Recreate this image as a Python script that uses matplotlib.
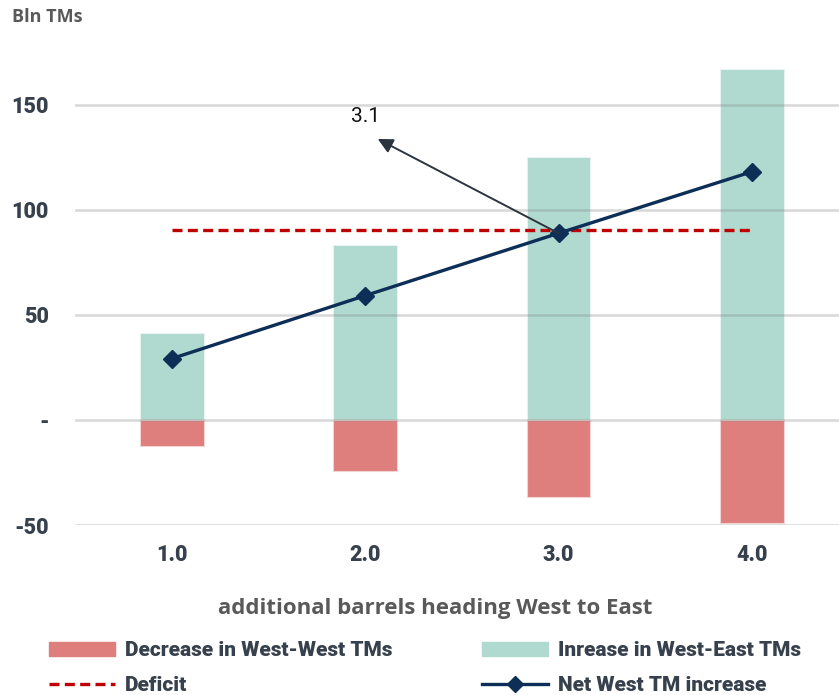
import matplotlib.pyplot as plt
from matplotlib.lines import Line2D
from matplotlib.patches import Patch

# barrels heading west to east and the TM changes (bln)
barrels = [1.0, 2.0, 3.0, 4.0]
decrease_ww = [-12.4, -24.1, -36.5, -48.9]
increase_we = [41.6, 83.3, 125.4, 167.1]
net_increase = [29.2, 59.2, 88.9, 118.2]
deficit = 90.5
y_ticks = [-50, 0, 50, 100, 150]
y_labels = ['-50', '-', '50', '100', '150']

red = '#de7f7e'
teal = '#b0d9cf'
navy = '#0c2e57'
dark = '#37414d'

fig = plt.figure(figsize=(8.39, 6.95), dpi=100)
ax = fig.add_axes([0.0894, 0.2446, 0.9106, 0.68])

w = 0.33
ax.bar(barrels, increase_we, width=w, color=teal, edgecolor='#e6f3ef', linewidth=0.8, zorder=2)
ax.bar(barrels, decrease_ww, width=w, color=red, edgecolor='#f3d4d4', linewidth=0.8, zorder=2)

for t in y_ticks:
    ax.axhline(t, color='#7f7f7f', alpha=0.3, linewidth=1.8, zorder=3)

ax.plot([barrels[0], barrels[-1]], [deficit, deficit], color='#c00000',
        linestyle=(0, (3, 1.6)), linewidth=2.4, zorder=4)
ax.plot(barrels, net_increase, color=navy, linewidth=2.4, marker='D',
        markersize=9, zorder=5)

# 3.1 annotation with arrow back from the crossing point
ax.annotate('', xy=(2.065, 133.8), xytext=(3.0, net_increase[2]),
            arrowprops=dict(arrowstyle='-|>,head_length=0.9,head_width=0.45',
                            color='#2b3540', lw=1.4, shrinkA=0, shrinkB=0), zorder=6)
ax.text(2.0, 144.5, '3.1', ha='center', va='center', fontsize=15,
        family='Roboto', color='#111111')

ax.set_xlim(0.5, 4.45)
ax.set_ylim(-50, 175)
ax.set_xticks(barrels)
ax.set_xticklabels(['%.1f' % b for b in barrels])
ax.set_yticks(y_ticks)
ax.set_yticklabels(y_labels)
ax.tick_params(length=0)
ax.tick_params(axis='y', pad=19)
ax.tick_params(axis='x', pad=14)
for lab in ax.get_xticklabels() + ax.get_yticklabels():
    lab.set_family('Roboto')
    lab.set_fontweight('heavy')
    lab.set_fontsize(15.5)
    lab.set_color(dark)
for s in ax.spines.values():
    s.set_visible(False)

fig.text(0.014, 0.975, 'Bln TMs', fontsize=13, family='Open Sans',
         fontweight='bold', color='#595959', va='center')
fig.text(0.519, 0.125, 'additional barrels heading West to East', fontsize=16,
         family='Open Sans', fontweight='bold', color='#595959',
         ha='center', va='center')

handles = [Patch(color=red), Patch(color=teal),
           Line2D([], [], color='#c00000', linestyle=(0, (3, 1.6)), linewidth=2.4),
           Line2D([], [], color=navy, linewidth=2.4, marker='D', markersize=8)]
labels = ['Decrease in West-West TMs', 'Inrease in West-East TMs',
          'Deficit', 'Net West TM increase']
order = [0, 2, 1, 3]
leg = fig.legend([handles[i] for i in order], [labels[i] for i in order],
                 loc='upper left', bbox_to_anchor=(0.058, 0.077), ncol=2,
                 frameon=False, handlelength=3.2, handletextpad=0.45,
                 columnspacing=4.3, labelspacing=0.75,
                 borderaxespad=0, borderpad=0,
                 prop={'family': 'Roboto', 'weight': 'heavy', 'size': 15})
for t in leg.get_texts():
    t.set_color(dark)

fig.savefig('out.png', dpi=100)
